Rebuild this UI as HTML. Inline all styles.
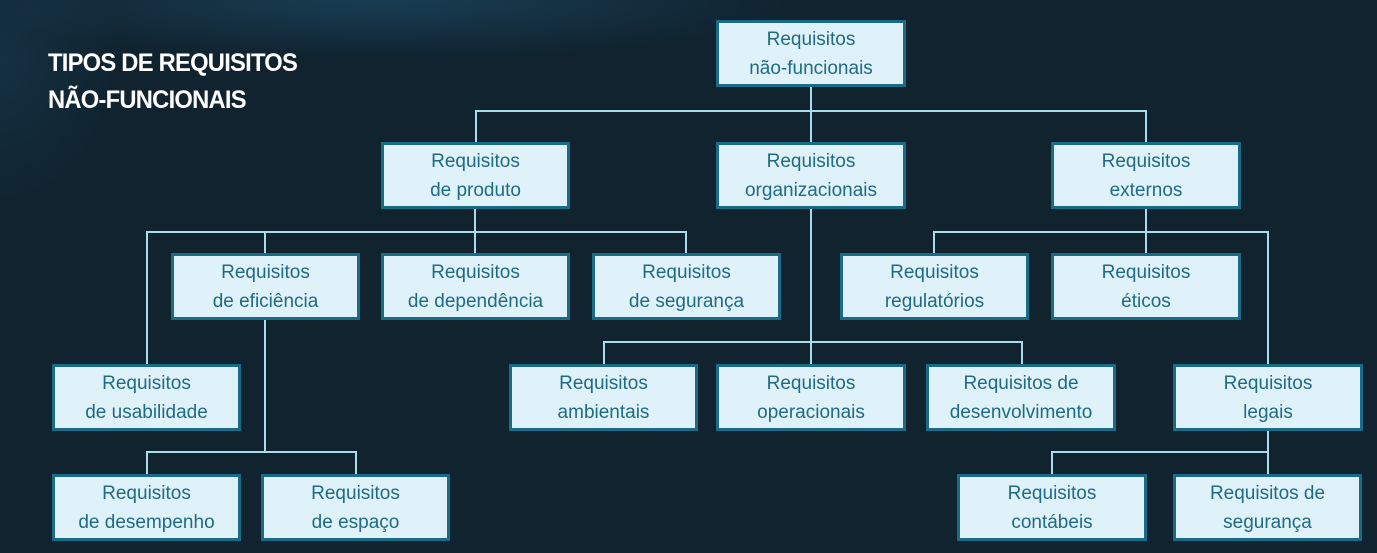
<!DOCTYPE html>
<html><head><meta charset="utf-8"><style>
body{margin:0;width:1377px;height:553px;overflow:hidden;background:#10232f;font-family:"Liberation Sans",sans-serif;position:relative}
.bg{position:absolute;inset:0;background:radial-gradient(ellipse 420px 60px at 380px 0px,rgba(40,110,150,.35),transparent),radial-gradient(ellipse 120px 150px at 0px 60px,rgba(30,80,110,.3),transparent)}
.t{position:absolute;left:48px;top:45px;color:#fff;font-weight:bold;font-size:25px;line-height:37px;letter-spacing:-0.8px;transform:scaleX(0.95);transform-origin:left}
.b{position:absolute;box-sizing:border-box;background:#dff2f9;border:3px solid #1a6b88;color:#1f6a85;font-size:19px;line-height:29px;text-align:center;display:flex;align-items:center;justify-content:center;height:67px}
svg{position:absolute;left:0;top:0}
</style></head><body><div class="bg"></div>
<div class="t">TIPOS DE REQUISITOS<br>NÃO-FUNCIONAIS</div>
<svg width="1377" height="553"><g stroke="#a9dcec" stroke-width="2" fill="none">
<path d="M811 87V142M476 142V111H1146V142"/>
<path d="M475 208V253M147 364V232H686V253M265 232V253"/>
<path d="M265 319V452M147 474V452H356V474"/>
<path d="M811 208V364M604 364V342H1022V364"/>
<path d="M1146 208V253M934 253V232H1268V364"/>
<path d="M1268 431V474M1052 474V452H1268"/>
</g></svg>
<div class="b" style="left:716px;top:20px;width:190px">Requisitos<br>não-funcionais</div>
<div class="b" style="left:381px;top:142px;width:189px">Requisitos<br>de produto</div>
<div class="b" style="left:716px;top:142px;width:190px">Requisitos<br>organizacionais</div>
<div class="b" style="left:1051px;top:142px;width:190px">Requisitos<br>externos</div>
<div class="b" style="left:171px;top:253px;width:189px">Requisitos<br>de eficiência</div>
<div class="b" style="left:381px;top:253px;width:189px">Requisitos<br>de dependência</div>
<div class="b" style="left:592px;top:253px;width:189px">Requisitos<br>de segurança</div>
<div class="b" style="left:840px;top:253px;width:189px">Requisitos<br>regulatórios</div>
<div class="b" style="left:1051px;top:253px;width:190px">Requisitos<br>éticos</div>
<div class="b" style="left:52px;top:364px;width:189px">Requisitos<br>de usabilidade</div>
<div class="b" style="left:509px;top:364px;width:189px">Requisitos<br>ambientais</div>
<div class="b" style="left:716px;top:364px;width:190px">Requisitos<br>operacionais</div>
<div class="b" style="left:926px;top:364px;width:190px">Requisitos de<br>desenvolvimento</div>
<div class="b" style="left:1173px;top:364px;width:190px">Requisitos<br>legais</div>
<div class="b" style="left:52px;top:474px;width:189px">Requisitos<br>de desempenho</div>
<div class="b" style="left:261px;top:474px;width:189px">Requisitos<br>de espaço</div>
<div class="b" style="left:957px;top:474px;width:190px">Requisitos<br>contábeis</div>
<div class="b" style="left:1173px;top:474px;width:189px">Requisitos de<br>segurança</div>
</body></html>
